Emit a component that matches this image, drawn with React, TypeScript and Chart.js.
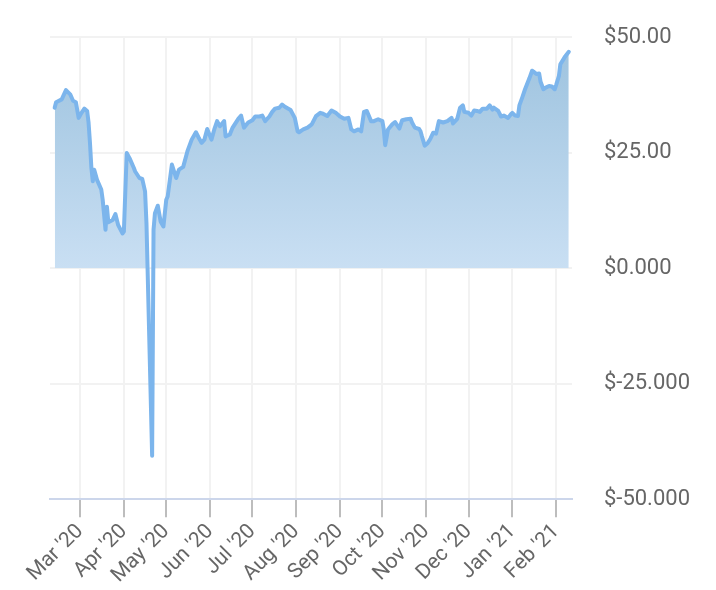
import React, { useEffect, useRef } from 'react';
import { Chart, registerables } from 'chart.js';

Chart.register(...registerables);

const dates: string[] = [
  '2020-02-12', '2020-02-13', '2020-02-17', '2020-02-20', '2020-02-23', '2020-02-25', '2020-02-27', '2020-02-29',
  '2020-03-02', '2020-03-04', '2020-03-06', '2020-03-07', '2020-03-08', '2020-03-09', '2020-03-10', '2020-03-11',
  '2020-03-13', '2020-03-16', '2020-03-17', '2020-03-19', '2020-03-20', '2020-03-21', '2020-03-24', '2020-03-26',
  '2020-03-28', '2020-03-31', '2020-04-01', '2020-04-03', '2020-04-05', '2020-04-08', '2020-04-09', '2020-04-12',
  '2020-04-14', '2020-04-16', '2020-04-17', '2020-04-21', '2020-04-22', '2020-04-23', '2020-04-25', '2020-04-27',
  '2020-04-29', '2020-05-01', '2020-05-02', '2020-05-05', '2020-05-08', '2020-05-10', '2020-05-13', '2020-05-16',
  '2020-05-19', '2020-05-22', '2020-05-24', '2020-05-26', '2020-05-28', '2020-05-30', '2020-06-02', '2020-06-04',
  '2020-06-06', '2020-06-08', '2020-06-11', '2020-06-12', '2020-06-15', '2020-06-17', '2020-06-21', '2020-06-23',
  '2020-06-25', '2020-06-28', '2020-07-01', '2020-07-03', '2020-07-06', '2020-07-08', '2020-07-10', '2020-07-13',
  '2020-07-15', '2020-07-17', '2020-07-20', '2020-07-22', '2020-07-24', '2020-07-28', '2020-07-31', '2020-08-02',
  '2020-08-03', '2020-08-06', '2020-08-09', '2020-08-12', '2020-08-15', '2020-08-18', '2020-08-20', '2020-08-23',
  '2020-08-26', '2020-08-29', '2020-09-01', '2020-09-04', '2020-09-07', '2020-09-09', '2020-09-11', '2020-09-14',
  '2020-09-16', '2020-09-18', '2020-09-20', '2020-09-23', '2020-09-25', '2020-09-28', '2020-10-01', '2020-10-02',
  '2020-10-03', '2020-10-05', '2020-10-08', '2020-10-10', '2020-10-13', '2020-10-15', '2020-10-18', '2020-10-21',
  '2020-10-22', '2020-10-24', '2020-10-27', '2020-10-28', '2020-10-29', '2020-10-31', '2020-11-02', '2020-11-04',
  '2020-11-06', '2020-11-08', '2020-11-10', '2020-11-13', '2020-11-16', '2020-11-19', '2020-11-20', '2020-11-23',
  '2020-11-25', '2020-11-27', '2020-11-28', '2020-12-01', '2020-12-03', '2020-12-05', '2020-12-07', '2020-12-09',
  '2020-12-11', '2020-12-14', '2020-12-16', '2020-12-18', '2020-12-19', '2020-12-22', '2020-12-24', '2020-12-26',
  '2020-12-29', '2020-12-31', '2021-01-01', '2021-01-03', '2021-01-05', '2021-01-06', '2021-01-08', '2021-01-10',
  '2021-01-13', '2021-01-15', '2021-01-16', '2021-01-18', '2021-01-20', '2021-01-21', '2021-01-23', '2021-01-25',
  '2021-01-27', '2021-01-29', '2021-01-31', '2021-02-01', '2021-02-03', '2021-02-04', '2021-02-07', '2021-02-10',
];

const prices: number[] = [
  34.7, 35.9, 36.5, 38.5, 37.6, 36.2, 35.9, 32.5,
  33.6, 34.5, 34.0, 31.5, 27.1, 21.7, 18.8, 21.3,
  19.1, 17.0, 14.8, 8.3, 13.3, 9.9, 10.4, 11.7,
  9.3, 7.5, 7.9, 24.9, 23.8, 21.7, 20.9, 19.5,
  19.3, 16.6, 9.7, -40.6, 8.3, 11.9, 13.5, 10.1,
  9.0, 14.8, 15.5, 22.4, 19.5, 21.3, 21.9, 25.3,
  27.8, 29.4, 28.2, 27.1, 27.8, 30.1, 27.8, 30.0,
  31.8, 30.7, 31.8, 28.5, 28.9, 30.4, 32.3, 33.0,
  30.4, 31.5, 32.0, 32.8, 32.8, 33.0, 31.8, 32.8,
  33.8, 34.5, 34.7, 35.4, 34.9, 34.2, 32.5, 29.6,
  29.4, 30.0, 30.4, 31.1, 32.9, 33.6, 33.4, 32.9,
  34.1, 33.6, 32.8, 32.3, 32.5, 30.0, 29.6, 30.0,
  29.6, 33.8, 34.0, 31.8, 31.8, 32.2, 31.8, 30.0,
  26.6, 30.0, 31.1, 31.6, 30.2, 32.0, 32.2, 32.3,
  31.5, 30.4, 30.1, 29.6, 28.5, 26.5, 27.0, 28.0,
  29.3, 29.1, 31.8, 31.5, 31.8, 32.5, 31.3, 32.3,
  34.7, 35.2, 33.8, 33.6, 33.0, 34.1, 34.0, 33.8,
  34.5, 34.5, 35.2, 34.3, 34.7, 34.0, 32.8, 33.0,
  32.5, 33.3, 33.6, 33.0, 32.9, 35.2, 36.9, 38.7,
  41.0, 42.7, 42.5, 42.0, 42.1, 40.3, 38.7, 39.1,
  39.4, 39.3, 38.7, 39.6, 41.6, 44.1, 45.6, 46.8,
];

const monthTickDates: string[] = [
  '2020-03-01', '2020-04-01', '2020-05-01', '2020-06-01', '2020-07-01', '2020-08-01',
  '2020-09-01', '2020-10-01', '2020-11-01', '2020-12-01', '2021-01-01', '2021-02-01',
];
const monthTickLabels: string[] = [
  "Mar '20", "Apr '20", "May '20", "Jun '20", "Jul '20", "Aug '20",
  "Sep '20", "Oct '20", "Nov '20", "Dec '20", "Jan '21", "Feb '21",
];

const yTickValues: number[] = [-50, -25, 0, 25, 50];
const yTickLabels: string[] = ['$-50.000', '$-25.000', '$0.000', '$25.00', '$50.00'];

const toDay = (s: string): number => {
  const [y, m, d] = s.split('-').map(Number);
  return Date.UTC(y, m - 1, d) / 86400000;
};

export default function App() {
  const ref = useRef<HTMLCanvasElement>(null);

  useEffect(() => {
    document.body.style.margin = '0';
    const points = dates.map((d, i) => ({ x: toDay(d), y: prices[i] }));
    const tickDays = monthTickDates.map(toDay);
    const xMin = toDay(dates[0]) - 3.3;
    const xMax = toDay(dates[dates.length - 1]) + 2.2;

    const chart = new Chart(ref.current as HTMLCanvasElement, {
      type: 'line',
      data: {
        datasets: [
          {
            data: points,
            borderColor: '#7cb5ec',
            borderWidth: 4,
            borderJoinStyle: 'round',
            borderCapStyle: 'round',
            pointRadius: 0,
            tension: 0,
            fill: { target: 'origin', below: 'rgba(0,0,0,0)' },
            backgroundColor: (ctx: any) => {
              const c = ctx.chart;
              if (!c.chartArea) return '#b4d1ea';
              const ys = c.scales.y;
              const g = c.ctx.createLinearGradient(0, ys.getPixelForValue(50), 0, ys.getPixelForValue(0));
              g.addColorStop(0, '#9cc2de');
              g.addColorStop(1, '#c9dff3');
              return g;
            },
          } as any,
        ],
      },
      options: {
        animation: false,
        responsive: true,
        maintainAspectRatio: false,
        layout: { padding: { top: 37, left: 50, right: 26, bottom: 0 } },
        plugins: { legend: { display: false }, tooltip: { enabled: false } },
        scales: {
          x: {
            type: 'linear',
            min: xMin,
            max: xMax,
            afterBuildTicks: (s: any) => {
              s.ticks = tickDays.map((v) => ({ value: v }));
            },
            ticks: {
              autoSkip: false,
              minRotation: 45,
              maxRotation: 45,
              color: '#666666',
              font: { family: 'Roboto', size: 21 },
              padding: 2,
              callback: (v: any) => {
                const i = tickDays.indexOf(Number(v));
                return i >= 0 ? monthTickLabels[i] : '';
              },
            },
            grid: { color: '#f2f2f2', lineWidth: 2, tickColor: '#bdbdbd', tickLength: 18, tickWidth: 2 },
            border: { color: '#ccd6eb', width: 2 },
          },
          y: {
            position: 'right',
            min: -50,
            max: 50,
            afterBuildTicks: (s: any) => {
              s.ticks = yTickValues.map((v) => ({ value: v }));
            },
            ticks: {
              color: '#666666',
              font: { family: 'Roboto', size: 22 },
              padding: 0,
              callback: (v: any) => {
                const i = yTickValues.indexOf(Number(v));
                return i >= 0 ? yTickLabels[i] : '';
              },
            },
            grid: {
              color: (ctx: any) => (ctx.tick && ctx.tick.value === -50 ? 'rgba(0,0,0,0)' : '#f2f2f2'),
              lineWidth: 2,
              drawTicks: true,
              tickLength: 32,
              tickColor: 'rgba(0,0,0,0)',
            },
            border: { display: false },
          },
        },
      } as any,
    });
    return () => chart.destroy();
  }, []);

  return (
    <div style={{ width: 716, height: 590, position: 'relative' }}>
      <canvas ref={ref} />
    </div>
  );
}
